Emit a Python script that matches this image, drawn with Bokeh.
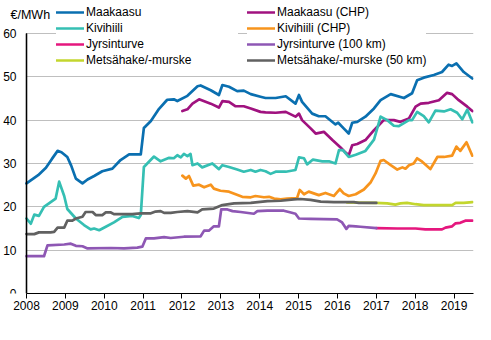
from bokeh.plotting import figure
from bokeh.models import Range1d, FixedTicker, Legend, LegendItem, Label, BoxAnnotation
from bokeh.embed import file_html
from bokeh.resources import INLINE

# ---- data (year, €/MWh) ----
maakaasu = [(2008.00, 25.4), (2008.30, 27.3), (2008.50, 29.0), (2008.65, 31.0), (2008.80, 32.9),
            (2008.90, 32.6), (2009.05, 31.5), (2009.15, 29.5), (2009.27, 26.5), (2009.44, 25.4),
            (2009.57, 26.3), (2009.74, 27.1), (2009.95, 28.2), (2010.21, 28.8), (2010.42, 30.8),
            (2010.64, 32.1), (2010.94, 32.1), (2011.02, 38.2), (2011.20, 39.8), (2011.41, 42.6),
            (2011.62, 44.7), (2011.79, 44.8), (2011.88, 44.4), (2012.14, 45.6), (2012.40, 47.8),
            (2012.48, 48.0), (2012.74, 46.9), (2012.95, 45.8), (2013.04, 48.1), (2013.21, 47.7),
            (2013.42, 46.7), (2013.59, 46.8), (2013.77, 46.0), (2014.02, 45.4), (2014.15, 45.1),
            (2014.41, 45.1), (2014.67, 45.5), (2014.92, 43.8), (2015.01, 45.8), (2015.09, 44.2),
            (2015.35, 41.5), (2015.52, 40.9), (2015.69, 40.9), (2015.95, 39.0), (2016.02, 39.4),
            (2016.16, 38.1), (2016.29, 36.9), (2016.38, 39.4), (2016.51, 39.6), (2016.72, 40.8),
            (2016.94, 42.7), (2017.11, 44.6), (2017.37, 46.0), (2017.71, 45.1), (2017.92, 46.2),
            (2018.05, 49.2), (2018.22, 49.8), (2018.48, 50.4), (2018.69, 51.1), (2018.86, 52.8),
            (2018.95, 52.5), (2019.06, 53.1), (2019.25, 51.1), (2019.47, 49.6)]

maakaasu_chp = [(2012.01, 42.1), (2012.14, 42.5), (2012.27, 43.8), (2012.44, 44.8), (2012.74, 43.8),
                (2012.95, 42.9), (2013.04, 44.4), (2013.21, 44.2), (2013.38, 43.2), (2013.59, 43.2),
                (2013.77, 42.7), (2014.02, 41.9), (2014.15, 41.8), (2014.41, 41.7), (2014.67, 41.9),
                (2014.92, 40.8), (2015.01, 41.5), (2015.09, 40.0), (2015.31, 38.1), (2015.44, 36.9),
                (2015.65, 37.3), (2015.87, 35.4), (2016.08, 33.7), (2016.21, 32.5), (2016.29, 31.9),
                (2016.38, 34.2), (2016.51, 34.5), (2016.72, 35.4), (2016.94, 37.7), (2017.02, 38.4),
                (2017.19, 40.0), (2017.45, 40.0), (2017.62, 39.6), (2017.84, 40.4), (2018.01, 43.1),
                (2018.14, 43.8), (2018.35, 44.0), (2018.61, 44.6), (2018.82, 46.3), (2018.95, 46.0),
                (2019.12, 44.6), (2019.34, 43.1), (2019.47, 42.1)]

kivihiili = [(2008.00, 17.3), (2008.11, 16.1), (2008.20, 18.2), (2008.32, 17.9), (2008.45, 20.0),
             (2008.75, 21.9), (2008.84, 25.8), (2008.97, 22.5), (2009.05, 19.5), (2009.27, 17.3),
             (2009.48, 15.8), (2009.65, 14.8), (2009.74, 15.0), (2009.87, 14.6), (2010.04, 15.4),
             (2010.25, 16.4), (2010.47, 17.7), (2010.72, 17.9), (2010.89, 17.4), (2010.94, 18.1),
             (2011.02, 29.2), (2011.28, 31.6), (2011.45, 30.5), (2011.67, 31.3), (2011.79, 31.2),
             (2011.88, 31.9), (2011.97, 31.4), (2012.05, 32.2), (2012.14, 31.7), (2012.22, 32.2),
             (2012.27, 29.6), (2012.40, 30.0), (2012.52, 29.1), (2012.78, 30.0), (2012.95, 28.7),
             (2013.04, 29.6), (2013.21, 29.2), (2013.42, 28.6), (2013.59, 28.1), (2013.77, 28.5),
             (2013.89, 28.1), (2014.02, 28.5), (2014.15, 28.2), (2014.28, 27.6), (2014.41, 28.1),
             (2014.67, 28.1), (2014.92, 28.5), (2015.01, 31.4), (2015.14, 31.2), (2015.22, 29.8),
             (2015.37, 30.9), (2015.61, 30.5), (2015.78, 30.5), (2015.95, 30.0), (2016.04, 33.1),
             (2016.14, 33.1), (2016.29, 31.5), (2016.47, 32.0), (2016.72, 32.9), (2016.94, 35.5),
             (2017.11, 40.8), (2017.28, 40.0), (2017.45, 38.7), (2017.58, 38.6), (2017.71, 39.3),
             (2017.84, 40.0), (2017.92, 40.0), (2018.05, 41.9), (2018.22, 40.9), (2018.35, 39.5),
             (2018.52, 42.2), (2018.74, 42.0), (2018.91, 42.5), (2019.08, 41.7), (2019.21, 40.2),
             (2019.34, 42.4), (2019.47, 39.5)]

kivihiili_chp = [(2012.01, 27.2), (2012.10, 26.5), (2012.18, 27.1), (2012.29, 24.9), (2012.44, 25.1),
                 (2012.57, 24.5), (2012.74, 25.1), (2012.82, 24.2), (2012.99, 23.7), (2013.21, 23.5),
                 (2013.38, 22.9), (2013.55, 22.3), (2013.77, 22.2), (2013.89, 22.5), (2014.11, 22.2),
                 (2014.24, 22.3), (2014.37, 21.9), (2014.54, 21.7), (2014.71, 21.9), (2014.96, 22.0),
                 (2015.03, 23.9), (2015.14, 22.9), (2015.26, 23.5), (2015.52, 22.7), (2015.69, 23.2),
                 (2015.91, 22.5), (2016.06, 24.1), (2016.16, 23.1), (2016.29, 22.5), (2016.47, 22.9),
                 (2016.68, 24.0), (2016.85, 25.6), (2016.98, 27.7), (2017.11, 30.6), (2017.19, 30.8),
                 (2017.37, 29.6), (2017.54, 28.6), (2017.67, 29.1), (2017.75, 28.8), (2017.84, 29.6),
                 (2017.96, 30.0), (2018.05, 31.2), (2018.18, 30.4), (2018.39, 28.7), (2018.57, 31.5),
                 (2018.74, 31.5), (2018.95, 31.8), (2019.06, 33.9), (2019.16, 32.9), (2019.32, 34.9),
                 (2019.47, 31.8)]

jyrsinturve = [(2017.00, 15.1), (2017.54, 15.0), (2018.01, 15.0), (2018.26, 14.8), (2018.69, 14.8),
               (2018.78, 15.2), (2018.95, 15.5), (2019.04, 16.2), (2019.16, 16.3), (2019.29, 16.8),
               (2019.47, 16.8)]

jyrsinturve_100 = [(2008.00, 8.6), (2008.45, 8.6), (2008.54, 11.1), (2008.97, 11.3), (2009.14, 11.5),
                   (2009.27, 11.0), (2009.44, 10.9), (2009.57, 10.4), (2010.17, 10.5), (2010.51, 10.4),
                   (2010.85, 10.6), (2010.98, 10.8), (2011.07, 12.7), (2011.28, 12.7), (2011.54, 13.0),
                   (2011.71, 12.8), (2012.05, 13.1), (2012.48, 13.2), (2012.57, 14.5), (2012.69, 14.5),
                   (2012.82, 15.5), (2012.95, 15.5), (2013.01, 19.4), (2013.17, 19.4), (2013.30, 19.0),
                   (2013.51, 18.8), (2013.85, 18.4), (2013.94, 19.0), (2014.20, 19.1), (2014.62, 19.1),
                   (2014.75, 18.8), (2014.92, 18.4), (2015.01, 17.3), (2015.31, 17.2), (2015.99, 17.1),
                   (2016.12, 16.4), (2016.23, 14.9), (2016.29, 15.6), (2016.47, 15.5), (2016.59, 15.4),
                   (2017.00, 15.1)]

metsahake = [(2016.25, 21.0), (2016.98, 20.9), (2017.28, 20.8), (2017.49, 20.5), (2017.62, 20.8),
             (2017.79, 20.9), (2018.01, 20.6), (2018.22, 20.4), (2018.65, 20.4), (2018.95, 20.4),
             (2019.04, 20.9), (2019.25, 20.9), (2019.47, 21.1)]

metsahake_50 = [(2008.00, 13.7), (2008.20, 13.7), (2008.32, 14.1), (2008.62, 14.1), (2008.71, 14.2),
                (2008.80, 15.2), (2008.97, 15.2), (2009.05, 16.8), (2009.18, 16.8), (2009.27, 17.3),
                (2009.44, 17.7), (2009.52, 18.8), (2009.70, 18.8), (2009.78, 18.1), (2009.95, 18.1),
                (2010.04, 18.7), (2010.17, 18.7), (2010.25, 18.3), (2010.72, 18.3), (2010.94, 18.5),
                (2011.20, 18.5), (2011.32, 18.9), (2011.45, 19.0), (2011.54, 18.6), (2011.71, 18.6),
                (2011.88, 18.8), (2012.14, 19.0), (2012.40, 18.7), (2012.52, 19.4), (2012.82, 19.6),
                (2013.04, 20.4), (2013.34, 20.8), (2013.77, 20.9), (2014.20, 21.3), (2014.54, 21.4),
                (2014.88, 21.7), (2015.05, 21.8), (2015.31, 21.6), (2015.57, 21.2), (2015.91, 21.1),
                (2016.42, 21.1), (2016.55, 20.9), (2017.00, 20.9)]

series_names = ["Maakaasu", "Maakaasu (CHP)", "Kivihiili", "Kivihiili (CHP)",
                "Jyrsinturve", "Jyrsinturve (100 km)", "Metsähake/-murske", "Metsähake/-murske (50 km)"]
series_data = [maakaasu, maakaasu_chp, kivihiili, kivihiili_chp,
               jyrsinturve, jyrsinturve_100, metsahake, metsahake_50]
series_colors = ["#0A6FB0", "#A0127F", "#35BFB3", "#F7941D",
                 "#E5177E", "#8E57B4", "#C3D62E", "#616161"]
year_ticks = list(range(2008, 2020))
value_ticks = [0, 10, 20, 30, 40, 50, 60]
unit_text = "€/MWh"

X_START, X_END = 2008, 2019.5
Y_MAX = 60
FONT = "Liberation Sans"

# Frame fills the canvas on the left and top so that the unit text and the
# legends (which overlap the upper plot area) are not clipped.
PX_PER_YEAR = (491 - 18 - 26) / (X_END - X_START)
x_view_start = X_START - 26 / PX_PER_YEAR

p = figure(width=491, height=340, output_backend="svg", toolbar_location=None,
           x_range=Range1d(x_view_start, X_END), y_range=Range1d(0, 67.6),
           min_border_left=0, min_border_right=18, min_border_top=0, min_border_bottom=47)
p.outline_line_color = None
p.background_fill_color = "white"

p.xgrid.grid_line_color = None
p.ygrid.grid_line_color = "#BFBFBF"
p.ygrid.grid_line_width = 1
yg = p.ygrid[0]
if "cross_bounds" in yg.properties():
    yg.cross_bounds = (X_START, X_END)
else:
    p.add_layout(BoxAnnotation(right=X_START - 1.0 / PX_PER_YEAR, fill_color="white",
                               fill_alpha=1.0, line_color=None, level="underlay"))

renderers = {}
for name, data, color in zip(series_names, series_data, series_colors):
    xs = [d[0] for d in data]
    ys = [d[1] for d in data]
    renderers[name] = p.line(xs, ys, line_color=color, line_width=2.7,
                             line_join="round", line_cap="round")

# x axis
p.xaxis.ticker = FixedTicker(ticks=year_ticks)
p.xaxis.bounds = (X_START, X_END)
p.xaxis.minor_tick_line_color = None
p.xaxis.major_tick_out = 5
p.xaxis.major_tick_in = 0
p.xaxis.major_tick_line_color = "black"
p.xaxis.axis_line_color = "black"
p.xaxis.major_label_standoff = 2
p.xaxis.major_label_text_font = FONT
p.xaxis.major_label_text_font_size = "12px"
p.xaxis.major_label_text_color = "black"

# y axis, pinned at the first year
p.yaxis.fixed_location = X_START
p.yaxis.ticker = FixedTicker(ticks=value_ticks)
p.yaxis.bounds = (0, Y_MAX)
p.yaxis.minor_tick_line_color = None
p.yaxis.major_tick_out = 0
p.yaxis.major_tick_in = 0
p.yaxis.axis_line_color = "black"
p.yaxis.axis_line_width = 1.3
p.yaxis.major_label_standoff = 10
p.yaxis.major_label_text_font = FONT
p.yaxis.major_label_text_font_size = "12px"
p.yaxis.major_label_text_color = "black"

# make sure the vertical axis line is visible (from 0 to the top tick)
p.segment(x0=[X_START], y0=[0], x1=[X_START], y1=[Y_MAX],
          line_color="black", line_width=1.3)

# unit label
p.add_layout(Label(x=X_START, y=67.6, x_offset=-16, y_offset=-14, text=unit_text,
                   text_font=FONT, text_font_size="12.5px",
                   text_align="left", text_baseline="middle",
                   text_color="black"))

def make_legend(names, vx, label_width):
    return Legend(items=[LegendItem(label=n, renderers=[renderers[n]]) for n in names],
                  location=(vx, 225), orientation="vertical",
                  padding=5, spacing=0, margin=0,
                  glyph_width=28, glyph_height=16, label_height=16,
                  label_standoff=2, label_width=label_width,
                  label_text_font=FONT, label_text_font_size="12px",
                  label_text_color="black",
                  background_fill_color="white", background_fill_alpha=1.0,
                  border_line_color=None)

leg1 = make_legend(series_names[0::2], 56, 152)
leg2 = make_legend(series_names[1::2], 247, 149)
p.add_layout(leg1, "center")
p.add_layout(leg2, "center")

open("out.html", "w").write(file_html(p, INLINE))
